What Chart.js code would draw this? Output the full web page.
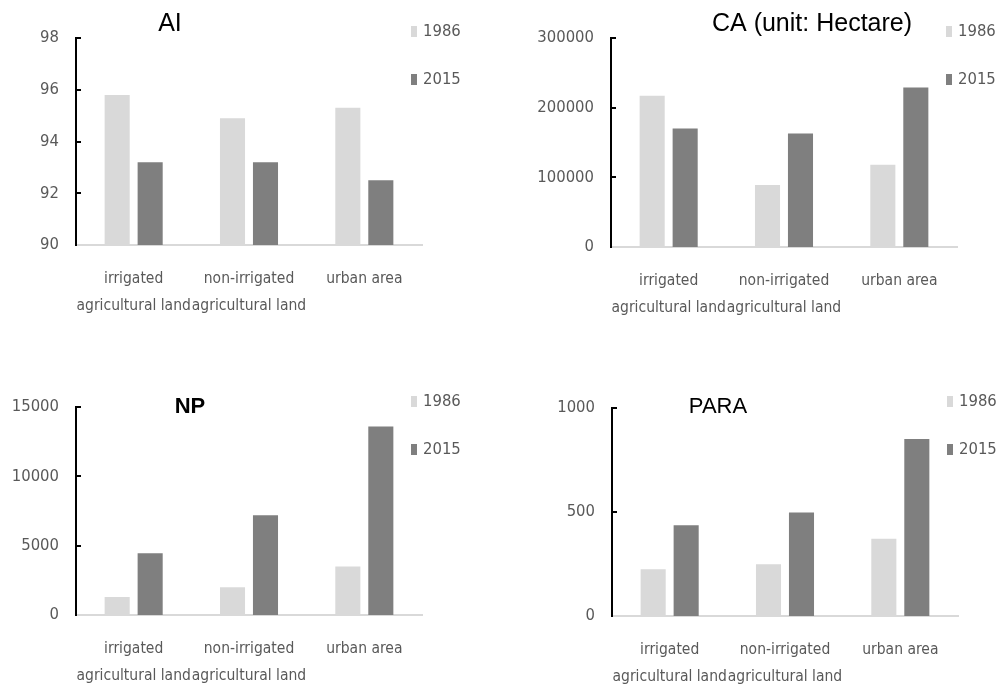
<!DOCTYPE html>
<html>
<head>
<meta charset="utf-8">
<script src="https://cdn.jsdelivr.net/npm/chart.js@4/dist/chart.umd.min.js"></script>
<style>
  html, body { margin: 0; padding: 0; background: #fff; }
  #wrap { position: relative; width: 998px; height: 687px; overflow: hidden; }
  .panel { position: absolute; }
  canvas { display: block; }
</style>
</head>
<body>
<div id="wrap">
  <div class="panel" style="left:0;top:0"><canvas id="chartAI" width="499" height="340"></canvas></div>
  <div class="panel" style="left:499px;top:0"><canvas id="chartCA" width="499" height="340"></canvas></div>
  <div class="panel" style="left:0;top:340px"><canvas id="chartNP" width="499" height="347"></canvas></div>
  <div class="panel" style="left:499px;top:340px"><canvas id="chartPARA" width="499" height="347"></canvas></div>
</div>
<script>
// Land-use classes and survey years
const categories = [['irrigated', 'agricultural land'], ['non-irrigated', 'agricultural land'], 'urban area'];
const years = ['1986', '2015'];

// Aggregation index (AI)
const ai1986 = [95.8, 94.9, 95.3];
const ai2015 = [93.2, 93.2, 92.5];
const aiTicks = [90, 92, 94, 96, 98];

// Class area (CA, hectare)
const ca1986 = [217000, 89000, 118000];
const ca2015 = [170000, 163000, 229000];
const caTicks = [0, 100000, 200000, 300000];

// Number of patches (NP)
const np1986 = [1300, 2000, 3500];
const np2015 = [4450, 7200, 13600];
const npTicks = [0, 5000, 10000, 15000];

// Perimeter-area ratio (PARA)
const para1986 = [225, 249, 371];
const para2015 = [436, 497, 851];
const paraTicks = [0, 500, 1000];

const yearColors = ['#d9d9d9', '#7f7f7f'];
const NARROW = "'Liberation Sans Narrow', 'DejaVu Sans Condensed', 'Arial Narrow', sans-serif";
const TITLE_FONT = "'Liberation Sans', Arial, sans-serif";

// Title, legend and inward tick marks on the value axis
const panelDecor = {
  id: 'panelDecor',
  afterDraw(chart, args, opts) {
    const ctx = chart.ctx;
    const y = chart.scales.y;
    const area = chart.chartArea;
    ctx.save();
    ctx.strokeStyle = '#000';
    ctx.lineWidth = 2;
    y.ticks.forEach(t => {
      if (t.value === y.min) return;
      const py = Math.round(y.getPixelForValue(t.value));
      ctx.beginPath();
      ctx.moveTo(area.left - 1, py);
      ctx.lineTo(area.left + 5, py);
      ctx.stroke();
    });

    ctx.fillStyle = '#000';
    ctx.font = opts.titleFont;
    ctx.textAlign = 'center';
    ctx.textBaseline = 'middle';
    ctx.fillText(opts.title, opts.titleX, opts.titleY);

    ctx.font = '16.5px ' + NARROW;
    ctx.textAlign = 'left';
    chart.data.datasets.forEach((ds, i) => {
      const cy = opts.legendY + i * 48;
      ctx.fillStyle = ds.backgroundColor;
      ctx.fillRect(opts.legendX, cy - 5, 6, 11);
      ctx.fillStyle = '#595959';
      ctx.fillText(ds.label, opts.legendX + 12, cy + 1);
    });
    ctx.restore();
  }
};

function makeChart(id, values, ticks, geom, deco) {
  const canvas = document.getElementById(id);
  const W = canvas.width, H = canvas.height;
  return new Chart(canvas, {
    type: 'bar',
    data: {
      labels: categories,
      datasets: years.map((yr, i) => ({
        label: yr,
        data: values[i],
        backgroundColor: yearColors[i],
        borderWidth: 0,
        categoryPercentage: 0.572,
        barPercentage: 0.76
      }))
    },
    options: {
      responsive: false,
      animation: false,
      devicePixelRatio: 1,
      layout: { padding: { left: 0, top: geom.top, right: W - geom.right, bottom: 0 } },
      plugins: {
        legend: { display: false },
        tooltip: { enabled: false },
        title: { display: false },
        panelDecor: deco
      },
      scales: {
        x: {
          grid: { display: false, drawTicks: false },
          border: { display: true, color: '#d9d9d9', width: 2 },
          ticks: {
            color: '#595959',
            font: { family: NARROW, size: 15.5, lineHeight: 1.75 },
            padding: 20,
            autoSkip: false,
            maxRotation: 0,
            minRotation: 0
          },
          afterFit(scale) { scale.height = H - geom.bottom; }
        },
        y: {
          min: ticks[0],
          max: ticks[ticks.length - 1],
          grid: { display: false, drawTicks: false },
          border: { display: true, color: '#000', width: 2 },
          ticks: {
            color: '#595959',
            font: { family: NARROW, size: 16.5 },
            padding: 17,
            callback: v => String(v)
          },
          afterBuildTicks(scale) { scale.ticks = ticks.map(v => ({ value: v })); },
          afterFit(scale) { scale.width = geom.left; }
        }
      }
    },
    plugins: [panelDecor]
  });
}

makeChart('chartAI', [ai1986, ai2015], aiTicks,
  { left: 76, right: 422, top: 38, bottom: 245 },
  { title: 'AI', titleFont: '25px ' + TITLE_FONT, titleX: 170, titleY: 24, legendX: 411, legendY: 31 });

makeChart('chartCA', [ca1986, ca2015], caTicks,
  { left: 112, right: 458, top: 38, bottom: 247 },
  { title: 'CA (unit: Hectare)', titleFont: '25px ' + TITLE_FONT, titleX: 313, titleY: 24, legendX: 447, legendY: 31 });

makeChart('chartNP', [np1986, np2015], npTicks,
  { left: 76, right: 422, top: 67, bottom: 275 },
  { title: 'NP', titleFont: 'bold 22px ' + TITLE_FONT, titleX: 190, titleY: 67, legendX: 411, legendY: 61 });

makeChart('chartPARA', [para1986, para2015], paraTicks,
  { left: 113, right: 459, top: 68, bottom: 276 },
  { title: 'PARA', titleFont: '22px ' + TITLE_FONT, titleX: 219, titleY: 67, legendX: 448, legendY: 61 });
</script>
</body>
</html>
